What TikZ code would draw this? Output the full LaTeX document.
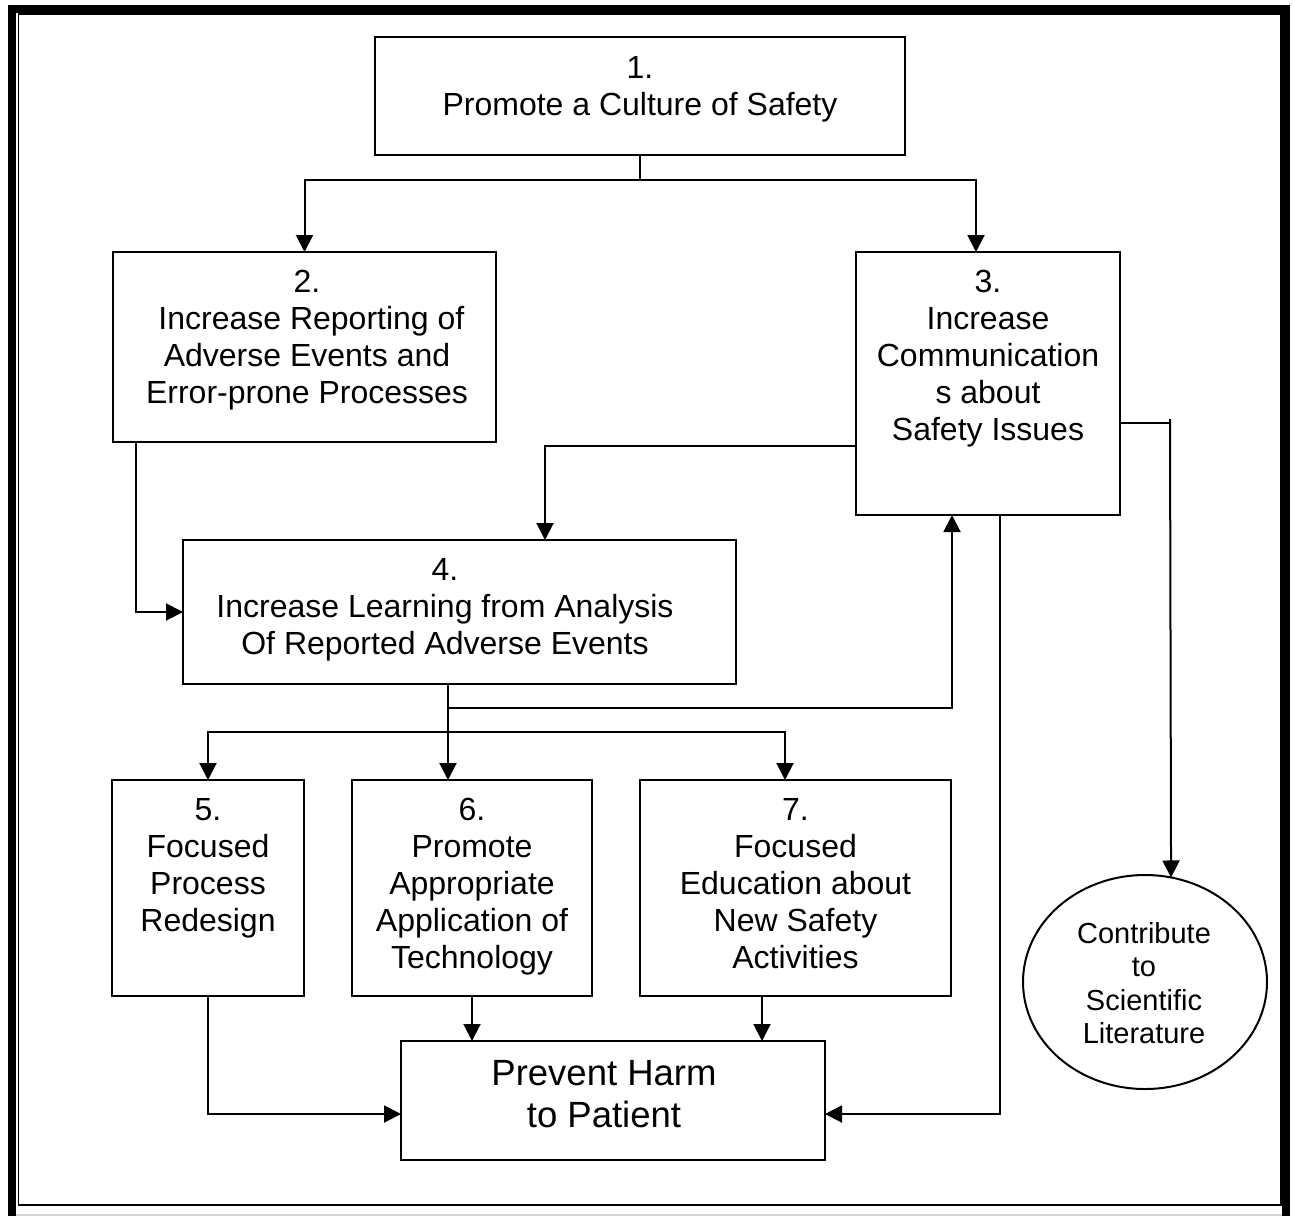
\documentclass[tikz,border=0pt]{standalone}
\usepackage{fontspec}
\setmainfont{Liberation Sans}
\usetikzlibrary{arrows.meta,shapes.geometric}
\begin{document}
\begin{tikzpicture}[x=1pt,y=-1pt,
  conn/.style={line width=2pt},
  arr/.style={conn,-{Triangle[length=17pt,width=17pt]}},
  stepbox/.style={draw,line width=2pt,inner sep=0pt,outer sep=0pt},
  txt/.style={align=center,inner sep=0pt,font=\fontsize{32}{37}\selectfont},
]
% page and frame
\fill[white] (0,0) rectangle (1295,1216);
\useasboundingbox (0,0) rectangle (1295,1216);
\draw[line width=8pt,line join=miter] (12,1216) -- (12,9) -- (1286,9) -- (1286,1216);
\draw[line width=1.5pt] (18.5,14) rectangle (1281,1205);
\draw[gray!35,line width=1.5pt] (16,1215) -- (1282,1215);

% boxes
\node[stepbox,minimum width=530,minimum height=118] (b1) at (640,96) {};
\node[stepbox,minimum width=383,minimum height=190] (b2) at (304.5,347) {};
\node[stepbox,minimum width=264,minimum height=263] (b3) at (988,383.5) {};
\node[stepbox,minimum width=553,minimum height=144] (b4) at (459.5,612) {};
\node[stepbox,minimum width=192,minimum height=216] (b5) at (208,888) {};
\node[stepbox,minimum width=240,minimum height=216] (b6) at (472,888) {};
\node[stepbox,minimum width=311,minimum height=216] (b7) at (795.5,888) {};
\node[stepbox,minimum width=424,minimum height=119] (bp) at (613,1100.5) {};
\node[stepbox,ellipse,minimum width=244,minimum height=214] (circ) at (1145,982) {};

% texts
\node[txt] (t1) at (640,89) {1.\\Promote a Culture of Safety};
\node[txt] (t2) at (307,340) {2.\\\hphantom{I}Increase Reporting of\\Adverse Events and\\Error-prone Processes};
\node[txt] (t3) at (988,359) {3.\\Increase\\Communication\\s about\\Safety Issues};
\node[txt] (t4) at (445,610) {4.\\Increase Learning from Analysis\\Of Reported Adverse Events};
\node[txt] (t5) at (208,868) {5.\\Focused\\Process\\Redesign};
\node[txt] (t6) at (472,887) {6.\\Promote\\Appropriate\\Application of\\Technology};
\node[txt] (t7) at (795.5,883.5) {7.\\Focused\\Education about\\New Safety\\Activities};
\node[txt,font=\fontsize{36.5}{42}\selectfont] (tp) at (604,1094) {Prevent Harm\\to Patient};
\node[txt,font=\fontsize{29}{33.5}\selectfont] (tc) at (1144,983) {Contribute\\to\\Scientific\\Literature};

% junctions
\coordinate (j1) at (640,180);
\coordinate (j4) at (448,732);
\coordinate (k3) at (1170,419);

% connectors
\draw[conn] (b1.south) -- (j1);
\draw[arr] (j1) -| (b2.north);
\draw[arr] (j1) -| ([xshift=-12pt]b3.north);
\draw[arr] ([xshift=-168.5pt]b2.south) |- (b4.west);
\draw[arr] ([yshift=-62.5pt]b3.west) -| ([xshift=85.5pt]b4.north);
\draw[arr] ([xshift=-11.5pt]b4.south) -- ++(0,24) -| ([xshift=-36pt]b3.south);
\draw[conn] ([xshift=-11.5pt]b4.south) -- (j4);
\draw[arr] (j4) -| (b5.north);
\draw[arr] (j4) -- (j4 |- b6.north);
\draw[arr] (j4) -| ([xshift=-10.5pt]b7.north);
\draw[arr] (b5.south) |- ([yshift=-13.5pt]bp.west);
\draw[arr] (b6.south) -- (b6.south |- bp.north);
\draw[arr] ([xshift=-33.5pt]b7.south) -- ([xshift=-33.5pt]b7.south |- bp.north);
\draw[arr] ([xshift=12pt]b3.south) |- ([yshift=-13.5pt]bp.east);
\draw[conn] ([yshift=-39.5pt]b3.east) -| (k3);
\draw[arr] (k3) -- (circ.76.6);
\end{tikzpicture}
\end{document}
